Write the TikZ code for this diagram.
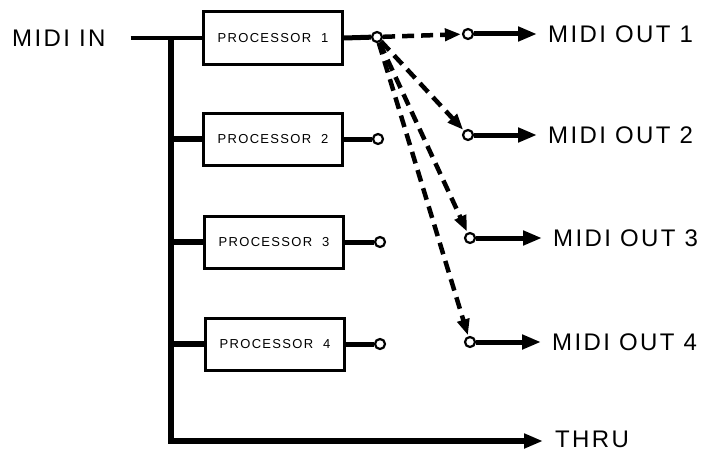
\documentclass[tikz,border=0pt]{standalone}
\usepackage{fontspec}
\setmainfont{Liberation Sans}
\newfontfamily\labelfont[LetterSpace=10]{Liberation Sans}
\usetikzlibrary{arrows.meta}

\begin{document}
\begin{tikzpicture}[x=1pt, y=-1pt,
    proc/.style={draw, line width=3pt, minimum width=139pt, minimum height=52pt, font=\labelfont\fontsize{13}{15}\selectfont},
    port/.style={circle, draw, fill=white, line width=2.2pt, inner sep=0pt, minimum size=10pt},
    io/.style={inner sep=0pt, anchor=west, font=\labelfont\fontsize{24}{28}\selectfont},
    bus/.style={line width=5.5pt},
    feed/.style={line width=5pt, -{Triangle[length=19pt, width=14pt]}},
    route/.style={line width=4.5pt, dash pattern=on 12pt off 7pt, -{Triangle[length=16pt, width=12pt]}, shorten >=1pt}]
    \useasboundingbox (0,0) rectangle (706,452);
    % inputs and processors
    \node[io] (in) at (12,38) {MIDI IN};
    \node[proc] (p1) at (273,38) {PROCESSOR\ \ 1};
    \node[proc] (p2) at (273,139) {PROCESSOR\ \ 2};
    \node[proc] (p3) at (274,242) {PROCESSOR\ \ 3};
    \node[proc] (p4) at (275,344) {PROCESSOR\ \ 4};
    \coordinate (top) at (171,38);
    \coordinate (bot) at (171,441);
    % outputs
    \node[io] (out1) at (548,34) {MIDI OUT 1};
    \node[io] (out2) at (548,135) {MIDI OUT 2};
    \node[io] (out3) at (553,238) {MIDI OUT 3};
    \node[io] (out4) at (552,342) {MIDI OUT 4};
    \node[io] (thru) at (555,439) {THRU};
    \draw[line width=3.5pt, shorten <=25pt] (in.east) -- (p1.west);
    \draw[bus, -{Triangle[length=19pt, width=14pt]}] (top) -- (bot) -- ([xshift=-12pt]thru.west |- bot);
    \foreach \i in {2,3,4}
        \draw[bus] (top |- p\i.west) -- (p\i.west);
    \node[port] (o1) at (377,37) {};
    \node[port] (o2) at (378,139) {};
    \node[port] (o3) at (380,242) {};
    \node[port] (o4) at (380,344) {};
    \node[port] (t1) at (468,34) {};
    \node[port] (t2) at (468,135) {};
    \node[port] (t3) at (470,238) {};
    \node[port] (t4) at (470,342) {};
    \foreach \i in {1,...,4} {
        \draw[line width=5pt] (p\i.east) -- (o\i);
        \draw[route] (o1) -- (t\i);
        \draw[feed] (t\i) -- ([xshift=-11pt]out\i.west);
    }
\end{tikzpicture}
\end{document}
